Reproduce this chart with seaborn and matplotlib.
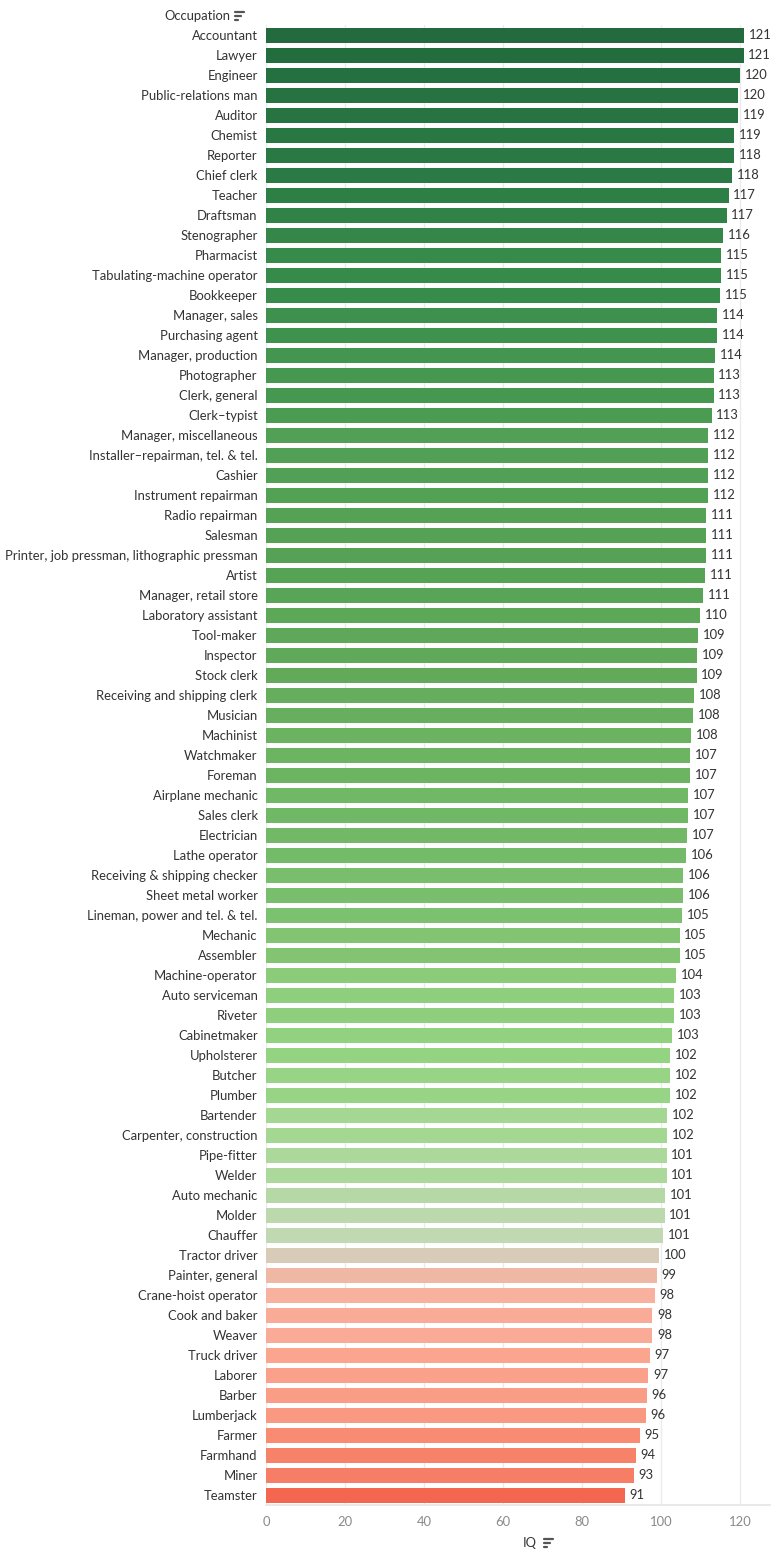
import matplotlib
matplotlib.use("Agg")
import matplotlib.pyplot as plt
from matplotlib.colors import LinearSegmentedColormap
from matplotlib.lines import Line2D
import seaborn as sns
import pandas as pd

occupations = [
    "Accountant", "Lawyer", "Engineer", "Public-relations man", "Auditor",
    "Chemist", "Reporter", "Chief clerk", "Teacher", "Draftsman",
    "Stenographer", "Pharmacist", "Tabulating-machine operator", "Bookkeeper",
    "Manager, sales", "Purchasing agent", "Manager, production", "Photographer",
    "Clerk, general", "Clerk\u2013typist", "Manager, miscellaneous",
    "Installer\u2013repairman, tel. & tel.", "Cashier", "Instrument repairman",
    "Radio repairman", "Salesman", "Printer, job pressman, lithographic pressman",
    "Artist", "Manager, retail store", "Laboratory assistant", "Tool-maker",
    "Inspector", "Stock clerk", "Receiving and shipping clerk", "Musician",
    "Machinist", "Watchmaker", "Foreman", "Airplane mechanic", "Sales clerk",
    "Electrician", "Lathe operator", "Receiving & shipping checker",
    "Sheet metal worker", "Lineman, power and tel. & tel.", "Mechanic",
    "Assembler", "Machine-operator", "Auto serviceman", "Riveter",
    "Cabinetmaker", "Upholsterer", "Butcher", "Plumber", "Bartender",
    "Carpenter, construction", "Pipe-fitter", "Welder", "Auto mechanic",
    "Molder", "Chauffer", "Tractor driver", "Painter, general",
    "Crane-hoist operator", "Cook and baker", "Weaver", "Truck driver",
    "Laborer", "Barber", "Lumberjack", "Farmer", "Farmhand", "Miner", "Teamster",
]

iq = [
    121.1, 120.9, 120.1, 119.6, 119.4,
    118.6, 118.4, 118.1, 117.1, 116.6,
    115.8, 115.3, 115.1, 115.0,
    114.3, 114.1, 113.6, 113.3,
    113.3, 112.8, 112.0,
    112.0, 112.0, 111.8,
    111.4, 111.3, 111.3,
    111.2, 110.6, 110.0, 109.4,
    109.2, 109.0, 108.4, 108.2,
    107.7, 107.4, 107.4, 106.8, 106.8,
    106.6, 106.3, 105.6,
    105.6, 105.3, 104.7,
    104.7, 103.7, 103.2, 103.2,
    102.7, 102.4, 102.2, 102.2, 101.6,
    101.6, 101.4, 101.4, 101.1,
    100.9, 100.6, 99.6, 98.9,
    98.4, 97.8, 97.8, 97.1,
    96.8, 96.4, 96.1, 94.6, 93.6, 93.1, 90.8,
]

x_ticks = [0, 20, 40, 60, 80, 100, 120]

# diverging red-green ramp, anchored in IQ units
ramp = [
    (90.8, "#f4664f"), (93.0, "#f67e66"), (94.6, "#f88b72"), (97.0, "#fba38d"),
    (98.4, "#f8b09f"), (98.9, "#efb8a5"), (99.6, "#d8ccb9"), (100.6, "#c0dab2"),
    (101.2, "#b5d8a5"), (101.5, "#a5d895"), (102.4, "#93d381"), (104.0, "#88c977"),
    (106.0, "#76bc6a"), (109.0, "#62aa5a"), (112.0, "#52a055"), (115.0, "#378c4b"),
    (118.0, "#2b7a44"), (121.1, "#236b3e"),
]
lo, hi = ramp[0][0], ramp[-1][0]
cmap = LinearSegmentedColormap.from_list(
    "rg", [((v - lo) / (hi - lo), c) for v, c in ramp])
colors = [cmap((v - lo) / (hi - lo)) for v in iq]

df = pd.DataFrame({"Occupation": occupations, "IQ": iq})

sns.set_theme(style="white")
plt.rcParams["font.family"] = ["Lato", "DejaVu Sans"]
FS = 9.4

fig = plt.figure(figsize=(7.82, 15.58), dpi=100)
ax = fig.add_axes([266 / 782, 53 / 1558, 504 / 782, 1480 / 1558])

sns.barplot(data=df, x="IQ", y="Occupation", hue="Occupation",
            palette=colors, legend=False, width=0.75, orient="h",
            saturation=1, linewidth=0, ax=ax)

for i, v in enumerate(iq):
    ax.annotate(f"{int(v + 0.5)}", xy=(v, i), xytext=(3.5, 0),
                textcoords="offset points", va="center", ha="left",
                fontsize=FS, color="#333333")

ax.set_xlim(0, 127.6)
ax.set_ylim(len(occupations) - 0.5, -0.5)
ax.set_xticks(x_ticks)
ax.set_xticklabels([str(t) for t in x_ticks], color="#8a8a8a", fontsize=FS)
ax.tick_params(axis="x", length=4, color="#dddddd", pad=4)
ax.tick_params(axis="y", length=0, pad=6, labelsize=FS, labelcolor="#333333")
ax.grid(axis="x", color="#ebebeb", linewidth=1)
ax.set_axisbelow(True)
for s in ["top", "right", "left"]:
    ax.spines[s].set_visible(False)
ax.spines["bottom"].set_color("#e6e6e6")
ax.set_xlabel("")
ax.set_ylabel("")

# headers with little sort icons
fig.text(230 / 782, 1 - 16 / 1558, "Occupation", ha="right", va="center",
         fontsize=FS, color="#333333")
fig.text(537 / 782, 1 - 1543 / 1558, "IQ", ha="right", va="center",
         fontsize=FS, color="#333333")


def sort_icon(x, y):
    for k, w in enumerate([9, 6, 3]):
        yy = y - 4 + k * 4
        fig.add_artist(Line2D([x / 782, (x + w) / 782],
                              [1 - yy / 1558, 1 - yy / 1558],
                              color="#555555", linewidth=1.6,
                              transform=fig.transFigure))


sort_icon(235, 16)
sort_icon(544, 1543)

fig.savefig("out.png", dpi=100)
